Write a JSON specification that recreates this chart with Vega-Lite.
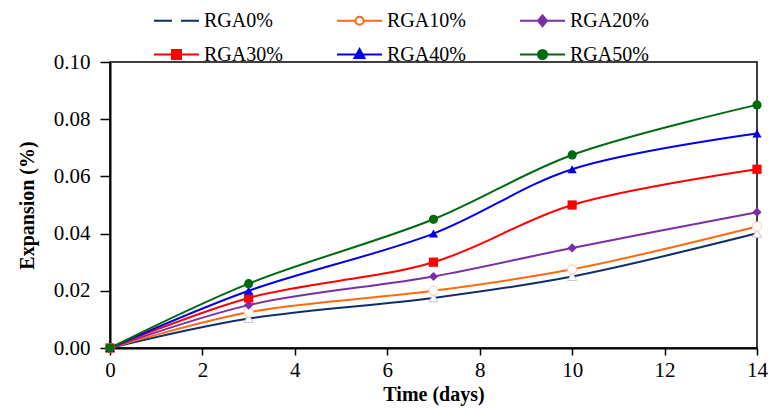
{
  "$schema": "https://vega.github.io/schema/vega-lite/v6.json",
  "autosize": "none",
  "width": 647,
  "height": 286,
  "padding": {"left": 110, "top": 62, "right": 12, "bottom": 64},
  "background": "white",
  "config": {
    "font": "Liberation Serif",
    "view": {"stroke": "black", "strokeWidth": 1.5},
    "legend": {"labelFont": "Liberation Serif"},
    "axis": {"grid": false, "domainColor": "black", "domainWidth": 2, "ticks": true, "tickColor": "black", "tickWidth": 1.5, "labelColor": "black", "titleColor": "black", "labelFont": "Liberation Serif", "titleFont": "Liberation Serif", "labelFontSize": 21, "titleFontSize": 20, "titleFontWeight": "bold", "labelFlush": false}
  },
  "data": {
    "values": [
      {"series": "RGA0%", "day": 0, "value": 0},
      {"series": "RGA0%", "day": 3, "value": 0.0103},
      {"series": "RGA0%", "day": 7, "value": 0.0175},
      {"series": "RGA0%", "day": 10, "value": 0.025},
      {"series": "RGA0%", "day": 14, "value": 0.0401},
      {"series": "RGA10%", "day": 0, "value": 0},
      {"series": "RGA10%", "day": 3, "value": 0.0125},
      {"series": "RGA10%", "day": 7, "value": 0.02},
      {"series": "RGA10%", "day": 10, "value": 0.0275},
      {"series": "RGA10%", "day": 14, "value": 0.0425},
      {"series": "RGA20%", "day": 0, "value": 0},
      {"series": "RGA20%", "day": 3, "value": 0.015},
      {"series": "RGA20%", "day": 7, "value": 0.025},
      {"series": "RGA20%", "day": 10, "value": 0.035},
      {"series": "RGA20%", "day": 14, "value": 0.0475},
      {"series": "RGA30%", "day": 0, "value": 0},
      {"series": "RGA30%", "day": 3, "value": 0.0175},
      {"series": "RGA30%", "day": 7, "value": 0.03},
      {"series": "RGA30%", "day": 10, "value": 0.05},
      {"series": "RGA30%", "day": 14, "value": 0.0625},
      {"series": "RGA40%", "day": 0, "value": 0},
      {"series": "RGA40%", "day": 3, "value": 0.02},
      {"series": "RGA40%", "day": 7, "value": 0.04},
      {"series": "RGA40%", "day": 10, "value": 0.0625},
      {"series": "RGA40%", "day": 14, "value": 0.075},
      {"series": "RGA50%", "day": 0, "value": 0},
      {"series": "RGA50%", "day": 3, "value": 0.0225},
      {"series": "RGA50%", "day": 7, "value": 0.045},
      {"series": "RGA50%", "day": 10, "value": 0.0675},
      {"series": "RGA50%", "day": 14, "value": 0.085}
    ]
  },
  "encoding": {
    "x": {"field": "day", "type": "quantitative", "scale": {"domain": [0, 14], "nice": false, "zero": false}, "axis": {"values": [0, 2, 4, 6, 8, 10, 12, 14], "title": "Time (days)", "tickSize": 7, "labelPadding": 4, "titlePadding": 4}},
    "y": {"field": "value", "type": "quantitative", "scale": {"domain": [0, 0.1], "nice": false}, "axis": {"values": [0, 0.02, 0.04, 0.06, 0.08, 0.1], "format": ".2f", "title": "Expansion (%)", "tickSize": 10, "labelPadding": 10, "titlePadding": 16}}
  },
  "layer": [
    {
      "mark": {"type": "line", "interpolate": "catmull-rom", "strokeWidth": 2},
      "encoding": {
        "color": {
          "field": "series", "type": "nominal",
          "scale": {"domain": ["RGA0%", "RGA10%", "RGA20%", "RGA30%", "RGA40%", "RGA50%"], "range": ["#0F2D6B", "#FF6A10", "#7B2FA6", "#FF0000", "#0000E6", "#006A10"]},
          "legend": {
            "title": null,
            "orient": "none",
            "legendX": 43,
            "legendY": -65,
            "direction": "horizontal",
            "columns": 3,
            "columnPadding": 50,
            "rowPadding": -9,
            "symbolSize": 2025,
            "symbolStrokeWidth": 2,
            "labelFontSize": 20,
            "labelFont": "Liberation Serif",
            "labelColor": "black",
            "labelOffset": 4,
            "labelLimit": 200,
            "encode": {
              "symbols": {
                "update": {
                  "shape": {"signal": "datum.value == 'RGA0%' ? 'M-1,0H-0.2M0.2,0H1' : datum.value == 'RGA10%' ? 'M-1,0H-0.18M0.18,0H1M-0.18,0A0.18,0.18 0 1,0 0.18,0A0.18,0.18 0 1,0 -0.18,0Z' : datum.value == 'RGA20%' ? 'M-1,0H1M0,-0.24L0.2,0L0,0.24L-0.2,0Z' : datum.value == 'RGA30%' ? 'M-1,0H1M-0.2,-0.2H0.2V0.2H-0.2Z' : datum.value == 'RGA40%' ? 'M-1,0H1M0,-0.24L0.22,0.16H-0.22Z' : 'M-1,0H1M-0.2,0A0.2,0.2 0 1,0 0.2,0A0.2,0.2 0 1,0 -0.2,0Z'"},
                  "fill": {"signal": "datum.value == 'RGA0%' || datum.value == 'RGA10%' ? 'white' : scale('color', datum.value)"},
                  "fillOpacity": {"value": 1},
                  "strokeWidth": {"value": 2}
                }
              }
            }
          }
        }
      }
    },
    {
      "transform": [{"filter": "datum.series == 'RGA0%'"}],
      "mark": {"type": "point", "shape": "triangle-up", "filled": false, "fill": "white", "stroke": "#C8C8DC", "strokeWidth": 1, "opacity": 1, "size": 85}
    },
    {
      "transform": [{"filter": "datum.series == 'RGA10%'"}],
      "mark": {"type": "point", "shape": "circle", "filled": false, "fill": "white", "stroke": "#FFC8A8", "strokeWidth": 1, "opacity": 1, "size": 85}
    },
    {
      "transform": [{"filter": "datum.series == 'RGA20%'"}],
      "mark": {"type": "point", "shape": "diamond", "filled": true, "color": "#7B2FA6", "opacity": 1, "size": 85}
    },
    {
      "transform": [{"filter": "datum.series == 'RGA30%'"}],
      "mark": {"type": "point", "shape": "square", "filled": true, "color": "#FF0000", "opacity": 1, "size": 85}
    },
    {
      "transform": [{"filter": "datum.series == 'RGA40%'"}],
      "mark": {"type": "point", "shape": "triangle-up", "filled": true, "color": "#0000E6", "opacity": 1, "size": 85}
    },
    {
      "transform": [{"filter": "datum.series == 'RGA50%'"}],
      "mark": {"type": "point", "shape": "circle", "filled": true, "color": "#006A10", "opacity": 1, "size": 85}
    }
  ]
}
